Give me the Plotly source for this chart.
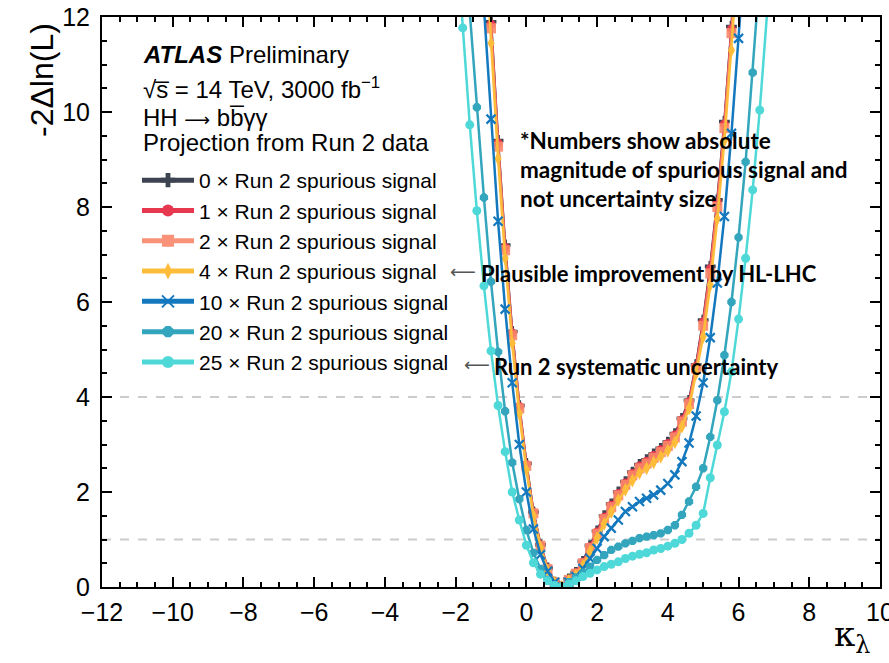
import plotly.graph_objects as go

# ---------------- data ----------------
KAPPA = [-2.0, -1.8, -1.6, -1.4, -1.2, -1.0, -0.8, -0.6, -0.4, -0.2,
         0.0, 0.2, 0.4, 0.6, 0.8, 1.0, 1.2, 1.4, 1.6, 1.8,
         2.0, 2.2, 2.4, 2.6, 2.8, 3.0, 3.2, 3.4, 3.6, 3.8,
         4.0, 4.2, 4.4, 4.6, 4.8, 5.0, 5.2, 5.4, 5.6, 5.8,
         6.0, 6.2, 6.4, 6.6, 6.8, 7.0]
N = None
SS0 = [N, N, N, N, 14.45, 11.9, 9.4, 7.2, 5.38, 3.82,
       2.6, 1.58, 0.89, 0.4, 0.1, 0.0, 0.17, 0.31, 0.54, 0.87,
       1.18, 1.5, 1.75, 2.0, 2.22, 2.42, 2.58, 2.68, 2.8, 2.92,
       3.05, 3.23, 3.55, 3.93, 4.68, 5.62, 6.75, 8.15, 9.8, 11.8,
       14.0, N, N, N, N, N]
SS1 = [N, N, N, N, 14.4, 11.85, 9.35, 7.15, 5.35, 3.8,
       2.58, 1.57, 0.88, 0.39, 0.1, 0.0, 0.16, 0.3, 0.52, 0.85,
       1.16, 1.47, 1.72, 1.97, 2.19, 2.39, 2.55, 2.65, 2.77, 2.89,
       3.02, 3.2, 3.52, 3.9, 4.65, 5.58, 6.7, 8.1, 9.75, 11.75,
       13.9, N, N, N, N, N]
SS2 = [N, N, N, N, 14.3, 11.76, 9.27, 7.09, 5.3, 3.76,
       2.55, 1.55, 0.87, 0.38, 0.1, 0.0, 0.15, 0.28, 0.5, 0.82,
       1.12, 1.43, 1.68, 1.93, 2.15, 2.35, 2.5, 2.6, 2.72, 2.84,
       2.97, 3.15, 3.48, 3.85, 4.6, 5.5, 6.6, 8.0, 9.66, 11.66,
       13.8, N, N, N, N, N]
SS4 = [N, N, N, N, 14.0, 11.45, 9.02, 6.92, 5.13, 3.65,
       2.47, 1.5, 0.83, 0.35, 0.09, 0.0, 0.13, 0.25, 0.45, 0.75,
       1.03, 1.33, 1.58, 1.83, 2.05, 2.24, 2.4, 2.5, 2.62, 2.74,
       2.87, 3.05, 3.38, 3.76, 4.5, 5.27, 6.36, 7.75, 9.4, 11.3,
       13.4, N, N, N, N, N]
SS10 = [N, N, N, N, 12.2, 9.85, 7.7, 5.85, 4.3, 3.0,
        2.0, 1.22, 0.68, 0.33, 0.1, 0.0, 0.1, 0.22, 0.39, 0.6,
        0.81, 1.06, 1.24, 1.41, 1.59, 1.69, 1.8, 1.87, 1.94, 2.04,
        2.18, 2.36, 2.64, 3.03, 3.6, 4.3, 5.25, 6.4, 7.8, 9.55,
        11.55, 13.6, N, N, N, N]
SS20 = [N, N, 12.1, 10.1, 8.2, 6.43, 4.95, 3.7, 2.62, 1.85,
        1.2, 0.72, 0.38, 0.15, 0.04, 0.0, 0.1, 0.2, 0.3, 0.43,
        0.57, 0.67, 0.78, 0.85, 0.92, 0.97, 1.03, 1.06, 1.09, 1.13,
        1.2, 1.3, 1.52, 1.8, 2.11, 2.5, 3.16, 3.93, 4.88, 6.0,
        7.36, 8.95, 10.83, 12.9, N, N]
SS25 = [13.9, 11.77, 9.73, 7.92, 6.34, 4.97, 3.82, 2.85, 2.0, 1.41,
        0.88, 0.51, 0.27, 0.13, 0.03, 0.0, 0.06, 0.13, 0.22, 0.29,
        0.36, 0.43, 0.48, 0.53, 0.6, 0.65, 0.69, 0.72, 0.78, 0.81,
        0.86, 0.92, 1.0, 1.13, 1.3, 1.55, 2.3, 2.99, 3.69, 4.53,
        5.64, 6.92, 8.36, 10.04, 12.1, 14.0]

SERIES_NAMES = ["0 × Run 2 spurious signal", "1 × Run 2 spurious signal",
                "2 × Run 2 spurious signal", "4 × Run 2 spurious signal",
                "10 × Run 2 spurious signal", "20 × Run 2 spurious signal",
                "25 × Run 2 spurious signal"]
SERIES_VALUES = [SS0, SS1, SS2, SS4, SS10, SS20, SS25]
THRESHOLDS = [1, 4]
X_TICKS = [-12, -10, -8, -6, -4, -2, 0, 2, 4, 6, 8, 10]
Y_TICKS = [0, 2, 4, 6, 8, 10, 12]

# ---------------- style ----------------
COLORS = ["#3d4350", "#e8384f", "#f9876a", "#fdbd3a", "#1478be", "#33a5bd", "#4fd8d8"]
SYMBOLS = ["cross", "circle", "square", "diamond-tall", "x-thin", "octagon", "circle"]
SIZES = [9, 9, 10, 10, 9, 9, 9]

W, H = 889, 663
L, R, T, B = 102, 9, 17, 76
PW, PH = W - L - R, H - T - B


def px(xp):
    return (xp - L) / PW


def py(yp):
    return (H - B - yp) / PH


FONT = "Liberation Sans, Arial, Helvetica, sans-serif"
BOLDFONT = "Lato, Open Sans, sans-serif"
ARROWFONT = "DejaVu Sans, sans-serif"

fig = go.Figure()
for name, vals, col, sym, sz in zip(SERIES_NAMES, SERIES_VALUES, COLORS, SYMBOLS, SIZES):
    mk = dict(symbol=sym, size=sz, color=col)
    if sym == "x-thin":
        mk["line"] = dict(color=col, width=2.2)
    else:
        mk["line"] = dict(width=0)
    fig.add_trace(go.Scatter(x=KAPPA, y=vals, name=name, mode="lines+markers",
                             line=dict(color=col, width=2.5), marker=mk,
                             opacity=0.9 if sym in ("square",) else 1.0))

for t in THRESHOLDS:
    fig.add_shape(type="line", xref="paper", x0=0, x1=1, yref="y", y0=t, y1=t,
                  line=dict(color="#cccccc", width=2, dash="dash"), layer="below")

ann = []
ann.append(dict(text="-2Δln(L)", x=px(42), y=py(21), textangle=-90,
                xanchor="center", yanchor="top", font=dict(size=32)))
ann.append(dict(text="κ<sub>λ</sub>", x=px(872), y=py(636), xanchor="right", yanchor="middle",
                font=dict(size=34, family="DejaVu Serif, Liberation Serif, serif")))
ann.append(dict(text="<b><i>ATLAS</i></b> Preliminary", x=px(141), y=py(55),
                xanchor="left", yanchor="middle", font=dict(size=24)))
ann.append(dict(text="√s̅ = 14 TeV, 3000 fb<sup>−1</sup>", x=px(141), y=py(88),
                xanchor="left", yanchor="middle", font=dict(size=24)))
ann.append(dict(text="HH <span style=\"font-family:DejaVu Sans;font-size:18px\">⟶</span> bb̅γγ",
                x=px(141), y=py(117), xanchor="left", yanchor="middle", font=dict(size=24)))
ann.append(dict(text="Projection from Run 2 data", x=px(141), y=py(142),
                xanchor="left", yanchor="middle", font=dict(size=24)))
for txt, yy in [("*Numbers show absolute", 140), ("magnitude of spurious signal and", 169),
                ("not uncertainty size", 198)]:
    ann.append(dict(text="<b>" + txt + "</b>", x=px(518), y=py(yy), xanchor="left",
                    yanchor="middle", font=dict(size=22.5, family=BOLDFONT)))
ann.append(dict(text="<b>Plausible improvement by HL-LHC</b>", x=px(479), y=py(273),
                xanchor="left", yanchor="middle", font=dict(size=22, family=BOLDFONT)))
ann.append(dict(text="<b>Run 2 systematic uncertainty</b>", x=px(492), y=py(366),
                xanchor="left", yanchor="middle", font=dict(size=22, family=BOLDFONT)))
ann.append(dict(text="⟵", x=px(463), y=py(271), xanchor="center", yanchor="middle",
                font=dict(size=18, color="#555555", family=ARROWFONT)))
ann.append(dict(text="⟵", x=px(477), y=py(364), xanchor="center", yanchor="middle",
                font=dict(size=18, color="#555555", family=ARROWFONT)))
for a in ann:
    a.update(xref="paper", yref="paper", showarrow=False)
    a.setdefault("font", {})
    a["font"].setdefault("color", "black")
    a["font"].setdefault("family", FONT)

axis_common = dict(showline=True, linecolor="black", linewidth=2, mirror="allticks",
                   ticks="inside", ticklen=10, tickwidth=1.5, tickcolor="black",
                   showgrid=False, zeroline=False, ticklabeloverflow="allow",
                   tickfont=dict(size=25, family=FONT, color="black"),
                   automargin=False)

fig.update_layout(
    width=W, height=H,
    margin=dict(l=L, r=R, t=T, b=B, pad=0),
    paper_bgcolor="white", plot_bgcolor="white",
    font=dict(family=FONT, color="black"),
    xaxis=dict(range=[-12, 10], tickvals=X_TICKS, ticklabelstandoff=2,
               minor=dict(dtick=0.5, tick0=0, ticks="inside", ticklen=5,
                          tickwidth=1.5, tickcolor="black"),
               **axis_common),
    yaxis=dict(range=[0, 12], tickvals=Y_TICKS, ticklabelstandoff=5,
               minor=dict(dtick=0.5, tick0=0, ticks="inside", ticklen=5,
                          tickwidth=1.5, tickcolor="black"),
               **axis_common),
    legend=dict(x=px(137), y=py(160), xanchor="left", yanchor="top",
                bgcolor="rgba(0,0,0,0)", borderwidth=0,
                font=dict(size=21, family=FONT, color="black"),
                itemwidth=52, tracegroupgap=0, itemsizing="constant"),
    annotations=ann,
    showlegend=True,
)

fig.write_html("out.html")
